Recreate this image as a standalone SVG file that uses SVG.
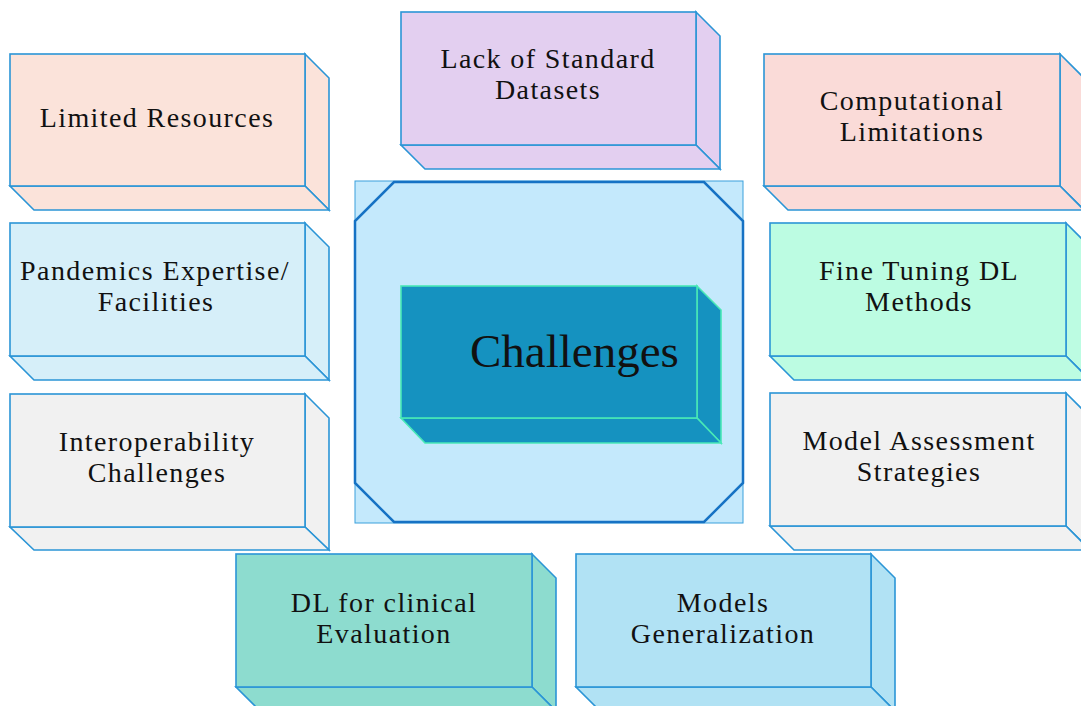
<svg xmlns="http://www.w3.org/2000/svg" width="1081" height="706" viewBox="0 0 1081 706">
<style>
.box{stroke:#2b95d6;stroke-width:1.6;stroke-linejoin:miter}
.lbl{font-family:"Liberation Serif","Times New Roman",serif;font-size:28px;fill:#111;stroke:none;text-anchor:middle;letter-spacing:1.4px}
.title{font-family:"Liberation Serif","Times New Roman",serif;font-size:47px;fill:#111}
</style>
<rect width="1081" height="706" fill="#ffffff"/>
<g id="connectors"></g>

<g id="center">
<rect x="355" y="181" width="388" height="342" fill="#c4e9fc" stroke="#3aa0dc" stroke-width="1"/>
<polygon points="394,182 704,182 743,221 743,483 704,522 394,522 355,483 355,221" fill="#c4e9fc" stroke="#1672c4" stroke-width="2.5"/>
<g fill="#1592c0" stroke="#48e8b6" stroke-width="1.6">
<polygon points="697,286 721,310 721,443 697,418"/>
<polygon points="401,418 697,418 721,443 425,443"/>
<rect x="401" y="286" width="296" height="132"/>
</g>
<text class="title" x="470" y="367">Challenges</text>
</g>

<g id="limited-resources" class="box" fill="#fbe3da">
<polygon points="305,54 329,78 329,210 305,186"/>
<polygon points="10,186 305,186 329,210 34,210"/>
<rect x="10" y="54" width="295" height="132"/>
<text class="lbl" x="157" y="127">Limited Resources</text>
</g>

<g id="lack-datasets" class="box" fill="#e3cff0">
<polygon points="696,12 720,36 720,169 696,145"/>
<polygon points="401,145 696,145 720,169 425,169"/>
<rect x="401" y="12" width="295" height="133"/>
<text class="lbl" x="548" y="68">Lack of Standard</text>
<text class="lbl" x="548" y="99">Datasets</text>
</g>

<g id="computational" class="box" fill="#fadbd8">
<polygon points="1060,54 1084,78 1084,210 1060,186"/>
<polygon points="764,186 1060,186 1084,210 788,210"/>
<rect x="764" y="54" width="296" height="132"/>
<text class="lbl" x="912" y="110">Computational</text>
<text class="lbl" x="912" y="141">Limitations</text>
</g>

<g id="pandemics" class="box" fill="#d6eff9">
<polygon points="305,223 329,247 329,380 305,356"/>
<polygon points="10,356 305,356 329,380 34,380"/>
<rect x="10" y="223" width="295" height="133"/>
<text class="lbl" x="155" y="280">Pandemics Expertise/</text>
<text class="lbl" x="156" y="311">Facilities</text>
</g>

<g id="fine-tuning" class="box" fill="#bcfce2">
<polygon points="1066,223 1090,247 1090,380 1066,356"/>
<polygon points="770,356 1066,356 1090,380 794,380"/>
<rect x="770" y="223" width="296" height="133"/>
<text class="lbl" x="919" y="280">Fine Tuning DL</text>
<text class="lbl" x="919" y="311">Methods</text>
</g>

<g id="interoperability" class="box" fill="#f1f1f1">
<polygon points="305,394 329,418 329,550 305,527"/>
<polygon points="10,527 305,527 329,550 34,550"/>
<rect x="10" y="394" width="295" height="133"/>
<text class="lbl" x="157" y="451">Interoperability</text>
<text class="lbl" x="157" y="482">Challenges</text>
</g>

<g id="model-assessment" class="box" fill="#f1f1f1">
<polygon points="1066,393 1090,417 1090,550 1066,526"/>
<polygon points="770,526 1066,526 1090,550 794,550"/>
<rect x="770" y="393" width="296" height="133"/>
<text class="lbl" x="919" y="450">Model Assessment</text>
<text class="lbl" x="919" y="481">Strategies</text>
</g>

<g id="dl-clinical" class="box" fill="#8ddccf">
<polygon points="532,554 556,578 556,711 532,687"/>
<polygon points="236,687 532,687 556,711 260,711"/>
<rect x="236" y="554" width="296" height="133"/>
<text class="lbl" x="384" y="612">DL for clinical</text>
<text class="lbl" x="384" y="643">Evaluation</text>
</g>

<g id="models-generalization" class="box" fill="#b1e2f4">
<polygon points="871,554 895,578 895,711 871,687"/>
<polygon points="576,687 871,687 895,711 600,711"/>
<rect x="576" y="554" width="295" height="133"/>
<text class="lbl" x="723" y="612">Models</text>
<text class="lbl" x="723" y="643">Generalization</text>
</g>
</svg>
